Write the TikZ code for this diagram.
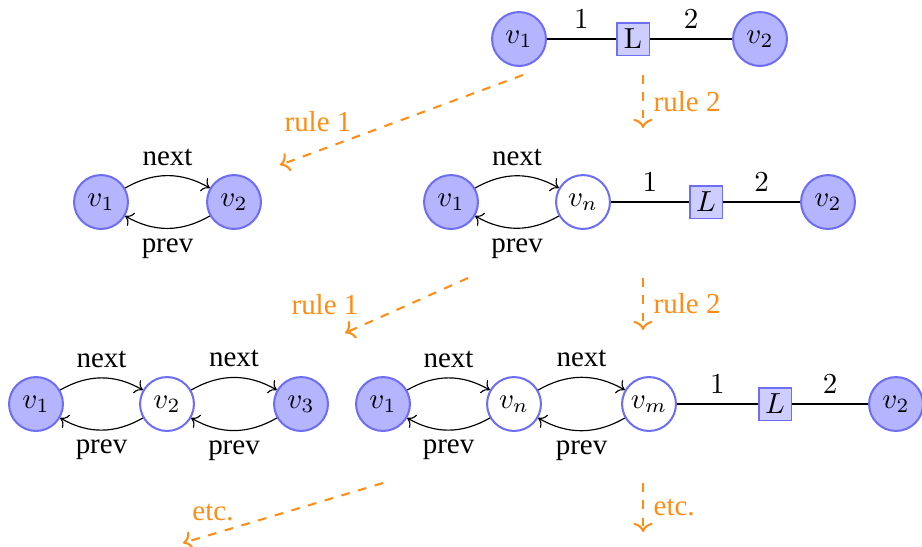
\documentclass[tikz,border=0pt]{standalone}
\usepackage{fontspec}
\newfontfamily\lblfont{Liberation Serif}
\usetikzlibrary{arrows.meta}
\definecolor{nodeblue}{RGB}{110,110,245}
\definecolor{fillblue}{RGB}{180,180,255}
\definecolor{boxblue}{RGB}{205,205,255}
\definecolor{ruleorange}{RGB}{255,140,20}
\begin{document}
\begin{tikzpicture}[x=0.345pt,y=-0.345pt,
  vfull/.style={circle,draw=nodeblue,fill=fillblue,line width=0.7pt,minimum size=18.6pt,inner sep=0pt},
  vempty/.style={circle,draw=nodeblue,fill=white,line width=0.7pt,minimum size=18.6pt,inner sep=0pt},
  lbox/.style={draw=nodeblue,fill=boxblue,line width=0.6pt,minimum size=11.3pt,inner sep=0.5pt},
  link/.style={line width=0.7pt},
  ptr/.style={->,line width=0.4pt},
  rulearrow/.style={->,ruleorange,dashed,line width=0.7pt},
  rulelbl/.style={text=ruleorange,font=\lblfont},
  ptrlbl/.style={font=\lblfont}]
\useasboundingbox (0,0) rectangle (922,546);

% initial graph
\node[vfull] (a1) at (519,39) {$v_1$};
\node[lbox] (aL) at (633,39) {L};
\node[vfull] (a2) at (760,39) {$v_2$};
\draw[link] (a1) -- node[above] {1} (aL);
\draw[link] (aL) -- node[above] {2} (a2);

% after one step
\node[vfull] (b1) at (101,202) {$v_1$};
\node[vfull] (b2) at (234,202) {$v_2$};
\draw[ptr] (b1) to[bend left=30] node[ptrlbl,above=0pt] {next} (b2);
\draw[ptr] (b2) to[bend left=30] node[ptrlbl,below=0pt] {prev} (b1);

\node[vfull] (c1) at (451,202) {$v_1$};
\node[vempty] (cn) at (583,202) {$v_n$};
\node[lbox] (cL) at (706,202) {$L$};
\node[vfull] (c2) at (828,202) {$v_2$};
\draw[ptr] (c1) to[bend left=30] node[ptrlbl,above=0pt] {next} (cn);
\draw[ptr] (cn) to[bend left=30] node[ptrlbl,below=0pt] {prev} (c1);
\draw[link] (cn) -- node[above] {1} (cL);
\draw[link] (cL) -- node[above] {2} (c2);

% after two steps
\node[vfull] (d1) at (36,404) {$v_1$};
\node[vempty] (d2) at (167,404) {$v_2$};
\node[vfull] (d3) at (301,404) {$v_3$};
\draw[ptr] (d1) to[bend left=30] node[ptrlbl,above=0pt] {next} (d2);
\draw[ptr] (d2) to[bend left=30] node[ptrlbl,below=0pt] {prev} (d1);
\draw[ptr] (d2) to[bend left=30] node[ptrlbl,above=0pt] {next} (d3);
\draw[ptr] (d3) to[bend left=30] node[ptrlbl,below=0pt] {prev} (d2);

\node[vfull] (e1) at (383,404) {$v_1$};
\node[vempty] (en) at (514,404) {$v_n$};
\node[vempty] (em) at (649,404) {$v_m$};
\node[lbox] (eL) at (775,404) {$L$};
\node[vfull] (e2) at (896,404) {$v_2$};
\draw[ptr] (e1) to[bend left=30] node[ptrlbl,above=0pt] {next} (en);
\draw[ptr] (en) to[bend left=30] node[ptrlbl,below=0pt] {prev} (e1);
\draw[ptr] (en) to[bend left=30] node[ptrlbl,above=0pt] {next} (em);
\draw[ptr] (em) to[bend left=30] node[ptrlbl,below=0pt] {prev} (en);
\draw[link] (em) -- node[above] {1} (eL);
\draw[link] (eL) -- node[above] {2} (e2);

% rewriting steps
\coordinate (r1s) at (523,75);  \coordinate (r1e) at (280,165);
\coordinate (r2s) at (643,75);  \coordinate (r2e) at (643,128);
\coordinate (r3s) at (468,278); \coordinate (r3e) at (345,333);
\coordinate (r4s) at (643,278); \coordinate (r4e) at (643,330);
\coordinate (r5s) at (383,483); \coordinate (r5e) at (183,543);
\coordinate (r6s) at (643,483); \coordinate (r6e) at (643,532);

\draw[rulearrow] (r1s) -- (r1e);
\node[rulelbl] (l1) at (318,122) {rule 1};
\draw[rulearrow] (r2s) -- node[rulelbl,right] (l2) {rule 2} (r2e);
\draw[rulearrow] (r3s) -- (r3e);
\node[rulelbl] (l3) at (325,305) {rule 1};
\draw[rulearrow] (r4s) -- node[rulelbl,right] (l4) {rule 2} (r4e);
\draw[rulearrow] (r5s) -- (r5e);
\node[rulelbl] (l5) at (213,513) {etc.};
\draw[rulearrow] (r6s) -- node[rulelbl,right] (l6) {etc.} (r6e);
\end{tikzpicture}
\end{document}
